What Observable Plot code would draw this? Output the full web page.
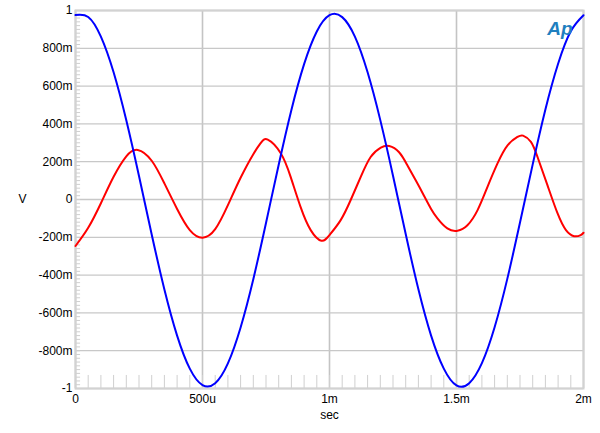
<!DOCTYPE html>
<html><head><meta charset="utf-8">
<script src="https://cdn.jsdelivr.net/npm/d3@7"></script>
<script src="https://cdn.jsdelivr.net/npm/@observablehq/plot@0.6"></script>
<style>body{margin:0;background:#fff;} #chart svg{display:block}</style>
</head><body><div id="chart"></div>
<script>
// Time in ms
const blueTime = [0,0.05,0.1,0.15,0.2,0.25,0.3,0.35,0.4,0.45,0.5,0.55,0.6,0.65,0.7,0.75,0.8,0.85,0.9,0.95,1.0,1.05,1.1,1.15,1.2,1.25,1.3,1.35,1.4,1.45,1.5,1.55,1.6,1.65,1.7,1.75,1.8,1.85,1.9,1.95,2.0];
const blueValue = [0.976,0.966,0.862,0.673,0.419,0.124,-0.185,-0.476,-0.72,-0.895,-0.982,-0.972,-0.867,-0.677,-0.422,-0.124,0.184,0.474,0.716,0.889,0.975,0.965,0.862,0.673,0.42,0.126,-0.183,-0.475,-0.72,-0.895,-0.984,-0.972,-0.866,-0.676,-0.42,-0.122,0.186,0.476,0.718,0.89,0.975];
const redTime = [0,0.05,0.1,0.15,0.2,0.245,0.3,0.35,0.4,0.45,0.5,0.55,0.6,0.65,0.7,0.73,0.757,0.808,0.847,0.886,0.926,0.968,1.0,1.044,1.083,1.123,1.162,1.202,1.235,1.274,1.307,1.34,1.372,1.4,1.425,1.464,1.504,1.543,1.583,1.622,1.661,1.701,1.74,1.762,1.793,1.819,1.858,1.898,1.931,1.963,1.989,2.0];
const redValue = [-0.246,-0.15,-0.02,0.12,0.228,0.262,0.205,0.085,-0.05,-0.162,-0.202,-0.157,-0.03,0.115,0.24,0.3,0.317,0.245,0.12,-0.039,-0.162,-0.218,-0.188,-0.109,-0.004,0.12,0.225,0.275,0.283,0.25,0.18,0.1,0.02,-0.05,-0.1,-0.153,-0.165,-0.136,-0.056,0.067,0.19,0.287,0.331,0.338,0.305,0.225,0.076,-0.074,-0.162,-0.194,-0.188,-0.176];
const xTicks = [0,0.5,1,1.5,2];
const xTickLabels = ["0","500u","1m","1.5m","2m"];
const yTicks = [-1,-0.8,-0.6,-0.4,-0.2,0,0.2,0.4,0.6,0.8,1];
const yTickLabels = ["-1","-800m","-600m","-400m","-200m","0","200m","400m","600m","800m","1"];

const blueData = blueTime.map((t,i)=>({t, v: blueValue[i]}));
const redData = redTime.map((t,i)=>({t, v: redValue[i]}));
const xLab = new Map(xTicks.map((d,i)=>[d, xTickLabels[i]]));
const yLab = new Map(yTicks.map((d,i)=>[d, yTickLabels[i]]));
const yMinor = d3.range(-100, 101, 2).map(d=>d/100);
const xMinor = d3.range(1, 40).map(d=>d*0.05);

const grid = "#c8c8c8";
const chart = Plot.plot({
  width: 600, height: 433,
  marginLeft: 75, marginRight: 17, marginTop: 10, marginBottom: 45,
  style: {fontFamily: "'Liberation Sans', Arial, sans-serif", fontSize: "12px", color: "#000", background: "#fff", overflow: "visible"},
  x: {domain: [0, 2]},
  y: {domain: [-1, 1]},
  marks: [
    Plot.gridX(xTicks, {stroke: "#c4c4c4", strokeOpacity: 1, strokeWidth: 1.6}),
    Plot.gridY(yTicks, {stroke: grid, strokeOpacity: 1, strokeWidth: 1.3}),
    Plot.ruleY(yMinor, {x1: 0, x2: 0.02, stroke: "#cfcfcf", strokeWidth: 1}),
    Plot.ruleX(xMinor, {y1: -1, y2: -0.931, stroke: "#cfcfcf", strokeWidth: 1}),
    Plot.frame({stroke: "#d2d2d2", strokeWidth: 2}),
    Plot.line(redData, {x: "t", y: "v", stroke: "#ff0000", strokeWidth: 2, curve: "natural"}),
    Plot.line(blueData, {x: "t", y: "v", stroke: "#0000ff", strokeWidth: 2, curve: "natural"}),
    Plot.axisX(xTicks, {tickSize: 0, tickPadding: 6, tickFormat: d => xLab.get(d), label: null, fill: "#000"}),
    Plot.axisY(yTicks, {tickSize: 0, tickPadding: 3, tickFormat: d => yLab.get(d), label: null, fill: "#000"}),
    Plot.text(["V"], {frameAnchor: "left", dx: -57, fontSize: 12, fill: "#000"}),
    Plot.text(["sec"], {frameAnchor: "bottom", dy: 30, fontSize: 12, fill: "#000"}),
    Plot.text(["Ap"], {frameAnchor: "top-right", dx: -11, dy: 11, fontSize: 19, fontWeight: "bold", fontStyle: "italic", fill: "#1f7fbf", fontFamily: "'Liberation Sans', Arial, sans-serif"})
  ]
});
document.getElementById("chart").appendChild(chart);
</script>
</body></html>
